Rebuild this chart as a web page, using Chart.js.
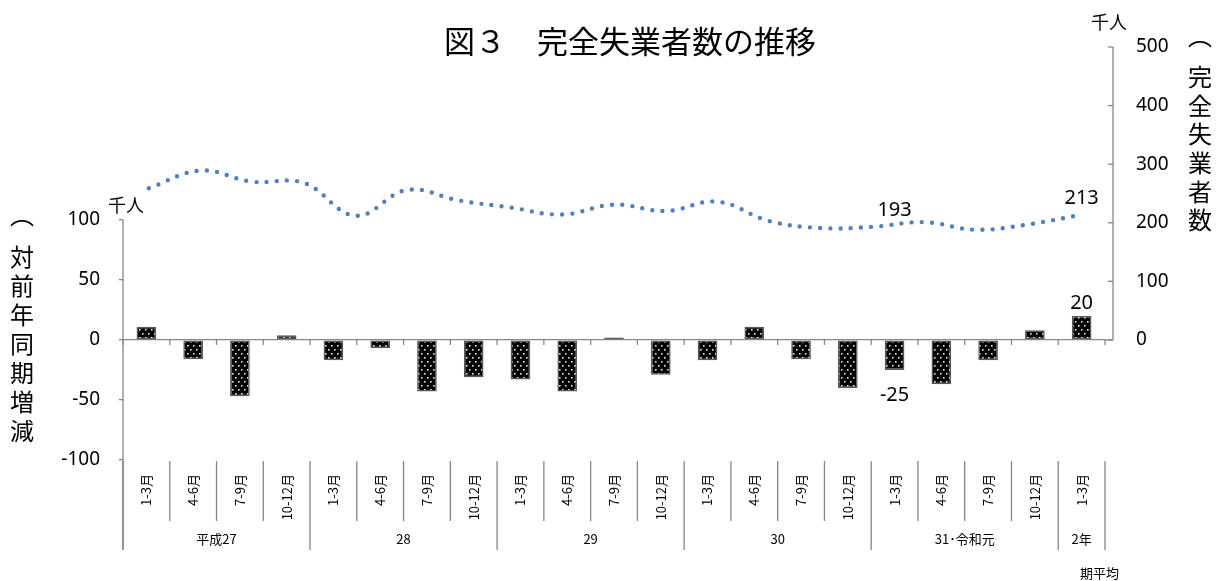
<!DOCTYPE html>
<html lang="ja">
<head>
<meta charset="utf-8">
<title>完全失業者数の推移</title>
<script src="https://cdn.jsdelivr.net/npm/chart.js@4.4.1/dist/chart.umd.min.js"></script>
<style>
  html, body { margin: 0; padding: 0; background: #fff; }
  #wrap { width: 1221px; height: 581px; position: relative; }
</style>
</head>
<body>
<div id="wrap"><canvas id="unemployChart"></canvas></div>
<script>
// 期（四半期）と年の区切り
const quarters = [
  '1-3月', '4-6月', '7-9月', '10-12月',
  '1-3月', '4-6月', '7-9月', '10-12月',
  '1-3月', '4-6月', '7-9月', '10-12月',
  '1-3月', '4-6月', '7-9月', '10-12月',
  '1-3月', '4-6月', '7-9月', '10-12月',
  '1-3月'
];
const years = ['平成27', '28', '29', '30', '31･令和元', '2年'];
const yearSpans = [4, 4, 4, 4, 4, 1];

// 対前年同期増減（千人）
const changes = [11, -16, -47, 4, -17, -7, -43, -31, -33, -43, 2, -29, -17, 11, -16, -40, -25, -37, -17, 8, 20];

// 完全失業者数（千人）— 折れ線は平成27年7-9月から
const lineStart = 2;
const unemployed = [259, 289, 270, 268, 212, 256, 238, 226, 214, 231, 220, 236, 203, 191, 193, 201, 188, 197, 213];

const leftTicks = [-100, -50, 0, 50, 100];
const rightTicks = [0, 100, 200, 300, 400, 500];

// 数値ラベルを付ける点
const barLabelIdx = [16, 20];
const lineLabelIdx = [14, 18];

const JP = "'Noto Sans CJK JP', sans-serif";
const NUM = "'Noto Sans', 'Noto Sans CJK JP', sans-serif";
const GREY = '#868686';

function dotPattern(ctx) {
  const c = document.createElement('canvas');
  c.width = 6;
  c.height = 8;
  const p = c.getContext('2d');
  p.fillStyle = '#000';
  p.fillRect(0, 0, 6, 8);
  p.fillStyle = '#e8e8e8';
  p.fillRect(1, 1, 1.6, 1.6);
  p.fillRect(4, 5, 1.6, 1.6);
  return ctx.createPattern(c, 'repeat');
}

const decor = {
  id: 'decor',
  afterDraw(chart) {
    const { ctx, chartArea: a, scales } = chart;
    const x = scales.x, yl = scales.y, yr = scales.y2;
    const w = x.getPixelForValue(1) - x.getPixelForValue(0);
    const edge = i => x.getPixelForValue(i) - w / 2;

    function seg(x1, y1, x2, y2) {
      ctx.beginPath();
      ctx.moveTo(x1, y1);
      ctx.lineTo(x2, y2);
      ctx.stroke();
    }

    ctx.save();
    ctx.strokeStyle = GREY;
    ctx.lineWidth = 1.3;

    // left axis (only from 100 down) and right axis
    seg(a.left, yl.getPixelForValue(100), a.left, 550);
    const rx = a.right + 8;
    seg(rx, yr.getPixelForValue(500), rx, yr.getPixelForValue(0));
    rightTicks.forEach(v => {
      const y = yr.getPixelForValue(v);
      seg(rx - 5, y, rx, y);
    });
    seg(a.right, yr.getPixelForValue(0), rx, yr.getPixelForValue(0));

    // tick marks under the zero line
    const y0 = yl.getPixelForValue(0);
    for (let i = 0; i <= quarters.length; i++) seg(edge(i), y0, edge(i), y0 + 5);

    // category dividers
    const groupEdges = [0];
    yearSpans.forEach(s => groupEdges.push(groupEdges[groupEdges.length - 1] + s));
    for (let i = 0; i <= quarters.length; i++) {
      const isGroup = groupEdges.includes(i);
      seg(edge(i), 461, edge(i), isGroup ? 550 : 521);
    }

    // quarter labels (rotated)
    ctx.fillStyle = '#000';
    ctx.font = '13px ' + JP;
    ctx.textAlign = 'right';
    ctx.textBaseline = 'middle';
    quarters.forEach((q, i) => {
      ctx.save();
      ctx.translate(x.getPixelForValue(i), 474);
      ctx.rotate(-Math.PI / 2);
      ctx.fillText(q, 0, 0);
      ctx.restore();
    });

    // year labels
    ctx.textAlign = 'center';
    years.forEach((yname, g) => {
      const cx = (edge(groupEdges[g]) + edge(groupEdges[g + 1])) / 2;
      ctx.fillText(yname, cx, 539);
    });
    const lastX = x.getPixelForValue(quarters.length - 1);
    ctx.fillText('期平均', lastX + 18, 573);

    // title
    ctx.font = '31px ' + JP;
    ctx.fillText('図３　完全失業者数の推移', 630, 41);

    // units
    ctx.font = '18px ' + JP;
    ctx.fillText('千人', 126, 205);
    ctx.fillText('千人', 1109, 22);

    // vertical axis titles
    ctx.font = '24px ' + JP;
    ctx.fillText('︵', 22, 215);
    ['対', '前', '年', '同', '期', '増', '減'].forEach((c, i) => ctx.fillText(c, 22, 257 + i * 29));
    ctx.fillText('︵', 1200, 36);
    ['完', '全', '失', '業', '者', '数'].forEach((c, i) => ctx.fillText(c, 1200, 77 + i * 28.6));

    // value labels
    ctx.font = '20px ' + NUM;
    barLabelIdx.forEach(i => {
      const v = changes[i];
      const bx = x.getPixelForValue(i);
      if (v >= 0) {
        ctx.textBaseline = 'alphabetic';
        ctx.fillText(String(v), bx, yl.getPixelForValue(v) - 7);
      } else {
        ctx.textBaseline = 'middle';
        ctx.fillText(String(v), bx, yl.getPixelForValue(v) + 25);
      }
    });
    ctx.textBaseline = 'alphabetic';
    lineLabelIdx.forEach(i => {
      const v = unemployed[i];
      const lx = x.getPixelForValue(i + lineStart);
      ctx.fillText(String(v), lx, yr.getPixelForValue(v) - 11);
    });

    ctx.restore();
  }
};

const canvas = document.getElementById('unemployChart');
const ctx = canvas.getContext('2d');

new Chart(ctx, {
  type: 'bar',
  data: {
    labels: quarters,
    datasets: [
      {
        type: 'line',
        label: '完全失業者数',
        data: unemployed,
        xAxisID: 'x2',
        yAxisID: 'y2',
        borderColor: '#4F81BD',
        borderWidth: 4.4,
        borderDash: [0, 10.2],
        borderCapStyle: 'round',
        pointRadius: 0,
        tension: 0.4,
        fill: false
      },
      {
        type: 'bar',
        label: '対前年同期増減',
        data: changes,
        xAxisID: 'x',
        yAxisID: 'y',
        grouped: false,
        backgroundColor: dotPattern(ctx),
        borderColor: '#5a5a5a',
        borderWidth: 1.5,
        borderSkipped: false,
        barPercentage: 0.42,
        categoryPercentage: 1
      }
    ]
  },
  options: {
    responsive: true,
    maintainAspectRatio: false,
    animation: false,
    layout: { padding: { top: 47, left: 0, right: 0, bottom: 0 } },
    plugins: {
      legend: { display: false },
      tooltip: { enabled: false }
    },
    scales: {
      x: {
        type: 'category',
        offset: true,
        grid: { display: false },
        border: { display: false },
        ticks: { display: false },
        afterFit: s => { s.height = 121; }
      },
      x2: {
        type: 'category',
        labels: quarters.slice(lineStart),
        offset: true,
        display: false
      },
      y: {
        position: 'left',
        min: -100,
        max: 244,
        border: { display: false },
        grid: {
          drawOnChartArea: true,
          drawTicks: true,
          tickLength: 4,
          lineWidth: 1.3,
          tickColor: GREY,
          color: c => (c.tick && c.tick.value === 0 ? GREY : 'rgba(0,0,0,0)')
        },
        ticks: {
          padding: 19,
          color: '#000',
          font: { family: NUM, size: 19 },
          callback: v => String(v)
        },
        afterBuildTicks: s => { s.ticks = leftTicks.map(v => ({ value: v })); },
        afterFit: s => { s.width = 123; }
      },
      y2: {
        position: 'right',
        min: -205,
        max: 500,
        border: { display: false },
        grid: { display: false, drawTicks: false },
        ticks: {
          padding: 31,
          color: '#000',
          font: { family: NUM, size: 19 },
          callback: v => String(v)
        },
        afterBuildTicks: s => { s.ticks = rightTicks.map(v => ({ value: v })); },
        afterFit: s => { s.width = 116; }
      }
    }
  },
  plugins: [decor]
});
</script>
</body>
</html>
